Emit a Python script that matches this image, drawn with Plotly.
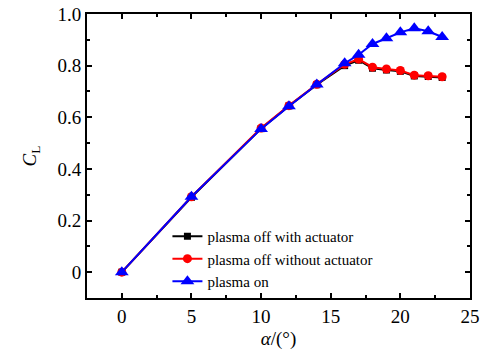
import plotly.graph_objects as go

alpha = [0, 5, 10, 12, 14, 16, 17, 18, 19, 20, 21, 22, 23]
cl_off_with = [0.0, 0.290, 0.556, 0.644, 0.726, 0.800, 0.821, 0.790, 0.783, 0.778, 0.760, 0.758, 0.754]
cl_off_without = [0.0, 0.292, 0.558, 0.645, 0.728, 0.805, 0.825, 0.794, 0.787, 0.781, 0.763, 0.761, 0.757]
cl_on = [0.0, 0.292, 0.555, 0.643, 0.727, 0.809, 0.842, 0.884, 0.906, 0.929, 0.945, 0.933, 0.911]

names = ["plasma off with actuator", "plasma off without actuator", "plasma on"]
x_ticks = [0, 5, 10, 15, 20, 25]
y_ticks = [0, 0.2, 0.4, 0.6, 0.8, 1.0]
y_tick_text = ["0", "0.2", "0.4", "0.6", "0.8", "1.0"]

FONT = "Liberation Serif"

fig = go.Figure()
fig.add_trace(go.Scatter(x=alpha, y=cl_off_with, name=names[0], mode="lines+markers",
                         line=dict(color="black", width=2),
                         marker=dict(symbol="square", size=7, color="black")))
fig.add_trace(go.Scatter(x=alpha, y=cl_off_without, name=names[1], mode="lines+markers",
                         line=dict(color="red", width=2),
                         marker=dict(symbol="circle", size=9, color="red")))
fig.add_trace(go.Scatter(x=alpha, y=cl_on, name=names[2], mode="lines+markers",
                         line=dict(color="blue", width=2),
                         marker=dict(symbol="triangle-up", size=12, color="blue")))

axis_common = dict(showline=True, linecolor="black", linewidth=2, mirror="ticks",
                   ticks="inside", ticklen=5, tickwidth=1.5, tickcolor="black",
                   showgrid=False, zeroline=False, automargin=False,
                   tickfont=dict(family=FONT, size=19, color="black"))

fig.update_xaxes(range=[-2.5, 25], tickvals=x_ticks,
                 minor=dict(ticks="inside", ticklen=3, tickwidth=1.5, tickcolor="black", dtick=2.5, tick0=0),
                 title=dict(text="<i>α</i>/(°)", font=dict(family=FONT, size=19, color="black"), standoff=6),
                 **axis_common)
fig.update_yaxes(range=[-0.1, 1.0], tickvals=y_ticks, ticktext=y_tick_text,
                 minor=dict(ticks="inside", ticklen=3, tickwidth=1.5, tickcolor="black", dtick=0.1, tick0=0),
                 title=dict(text="<i>C</i><sub>L</sub>", font=dict(family=FONT, size=19, color="black"), standoff=16),
                 **axis_common)

fig.update_layout(
    width=486, height=354,
    margin=dict(l=87, r=16, t=14, b=56),
    paper_bgcolor="white", plot_bgcolor="white",
    font=dict(family=FONT, color="black"),
    legend=dict(x=0.21, y=0.275, xanchor="left", yanchor="top",
                bgcolor="rgba(0,0,0,0)", font=dict(family=FONT, size=15, color="black"),
                tracegroupgap=0, itemwidth=30),
    showlegend=True,
)

fig.write_html("out.html")
